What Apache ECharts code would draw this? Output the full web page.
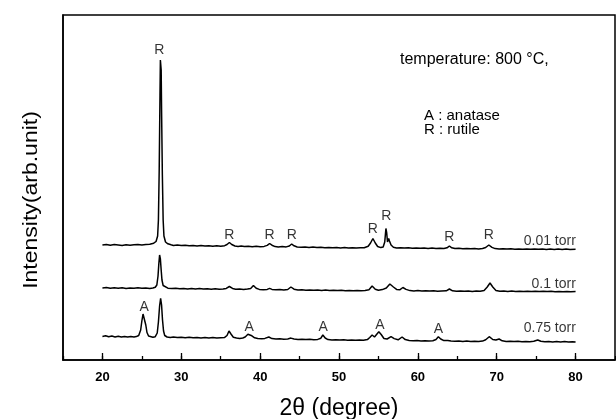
<!DOCTYPE html>
<html>
<head>
<meta charset="utf-8">
<script src="https://cdn.jsdelivr.net/npm/echarts@6/dist/echarts.min.js"></script>
<style>html,body{margin:0;padding:0;background:#fff}#c{width:616px;height:419px}</style>
</head>
<body>
<div id="c"></div>
<script>
// 2θ (degree) vs intensity (arb. units, traces offset as in the figure)
var trace001 = [
[20,115],[20.5,115.6],[21,114.8],[21.5,115.4],[22,115],[22.5,114.6],[23,115.3],[23.5,114.7],[24,115.2],[24.5,115.6],[25,115],[25.5,115.4],[26,115.8],[26.5,116.8],[26.8,118.5],[27,124],[27.1,140],[27.2,190],[27.3,265],[27.35,300],[27.4,302],[27.45,290],[27.5,250],[27.6,185],[27.7,140],[27.8,124],[28,118],[28.3,116.2],[28.7,115.2],[29,114.6],[29.5,115],[30,114.4],[30.5,114.8],[31,114.2],[31.5,114.6],[32,114],[32.5,114.5],[33,113.9],[33.5,114.3],[34,113.8],[34.5,114.2],[35,113.7],[35.5,114.3],[35.8,115.5],[36.1,117.5],[36.4,115.5],[36.8,114],[37.2,113.6],[37.6,114],[38,113.5],[38.5,113.8],[39,113.3],[39.5,113.7],[40,113.2],[40.5,113.6],[40.9,114.6],[41.2,116.5],[41.5,114.8],[41.9,113.4],[42.3,113],[42.8,113.4],[43.3,113.1],[43.7,114],[44,116],[44.3,114.2],[44.7,113],[45.2,112.7],[45.7,113],[46.2,112.6],[46.7,112.9],[47.2,112.4],[47.7,112.8],[48.2,112.3],[48.7,112.6],[49.2,112.2],[49.7,112.5],[50.2,112.1],[50.7,112.4],[51.2,112],[51.7,112.3],[52.2,111.9],[52.7,112.2],[53.2,112.3],[53.7,113.8],[54,117],[54.3,121.5],[54.6,117],[54.9,113.5],[55.3,112.4],[55.6,113],[55.8,118],[55.95,131.5],[56.05,127],[56.15,118],[56.3,121.5],[56.4,119],[56.6,115],[56.9,112.8],[57.3,112],[57.8,112.3],[58.3,111.9],[58.8,112.2],[59.3,111.8],[59.8,112.1],[60.3,111.7],[60.8,112],[61.3,111.6],[61.8,111.9],[62.3,111.5],[62.8,111.8],[63.3,111.6],[63.7,112.2],[64,114],[64.3,112.2],[64.7,111.4],[65.2,111.7],[65.7,111.3],[66.2,111.6],[66.7,111.2],[67.2,111.5],[67.7,111.1],[68.2,111.5],[68.6,112.5],[69,115],[69.4,112.6],[69.8,111.4],[70.3,111],[70.8,111.3],[71.3,110.9],[71.8,111.2],[72.3,110.8],[72.8,111.1],[73.3,110.8],[73.8,111.1],[74.3,110.7],[74.8,111],[75.3,110.7],[75.8,111],[76.3,110.6],[76.8,110.9],[77.3,110.6],[77.8,110.9],[78.3,110.6],[78.8,110.9],[79.3,110.6],[80,110.8]
];
var trace01 = [
[20,72],[20.5,72.4],[21,71.7],[21.5,72.2],[22,71.8],[22.5,72.3],[23,71.6],[23.5,72],[24,71.7],[24.5,72.2],[25,71.8],[25.5,72.1],[26,71.6],[26.4,72],[26.7,72.8],[26.9,75],[27.05,84],[27.15,96],[27.25,105],[27.35,101],[27.45,90],[27.55,80],[27.7,74.5],[27.9,72.6],[28.3,71.8],[28.8,71.4],[29.3,71.8],[29.8,71.2],[30.3,71.6],[30.8,71],[31.3,71.5],[31.8,71],[32.3,71.4],[32.8,70.9],[33.3,71.3],[33.8,70.8],[34.3,71.2],[34.8,70.7],[35.3,71.1],[35.7,71.6],[36.1,73.5],[36.5,71.6],[36.9,70.8],[37.4,71],[37.9,70.6],[38.4,70.9],[38.8,71.6],[39.15,74.5],[39.5,71.8],[39.9,70.6],[40.4,70.3],[40.9,70.6],[41.2,71.6],[41.5,70.6],[42,70.2],[42.5,70.5],[43,70.1],[43.5,70.5],[43.9,73],[44.3,70.8],[44.8,69.9],[45.3,70.2],[45.8,69.8],[46.3,70.1],[46.8,69.7],[47.3,70],[47.8,69.6],[48.3,69.9],[48.8,69.5],[49.3,69.8],[49.8,69.4],[50.3,69.7],[50.8,69.3],[51.3,69.6],[51.8,69.3],[52.3,69.6],[52.8,69.2],[53.3,69.5],[53.8,70.3],[54.2,74],[54.6,70.8],[55,69.8],[55.5,70.4],[56,72],[56.45,76],[56.9,73],[57.3,70.6],[57.7,70.2],[58.1,72.5],[58.5,70.6],[59,69.4],[59.5,69.1],[60,69.4],[60.5,69],[61,69.3],[61.5,68.9],[62,69.2],[62.5,68.8],[63,69.1],[63.6,69.2],[64,71],[64.4,69.2],[64.9,68.8],[65.4,69.1],[65.9,68.7],[66.4,69],[66.9,68.6],[67.4,68.9],[67.9,68.7],[68.4,69.5],[68.8,73],[69.15,77],[69.5,73],[69.9,69.6],[70.4,68.7],[70.9,69],[71.4,68.6],[71.9,68.9],[72.4,68.5],[72.9,68.8],[73.4,68.5],[73.9,68.8],[74.4,68.4],[74.9,68.7],[75.4,68.4],[75.9,68.7],[76.4,68.4],[76.9,68.7],[77.4,68.3],[77.9,68.6],[78.4,68.3],[78.9,68.6],[79.4,68.3],[80,68.5]
];
var trace075 = [
[20,23.5],[20.4,24.2],[20.8,23.2],[21.2,23.9],[21.6,23.1],[22,23.7],[22.4,23],[22.8,23.6],[23.2,23],[23.6,23.5],[24,23],[24.3,23.4],[24.6,24.5],[24.85,30],[25,39],[25.15,46],[25.25,47.3],[25.35,44],[25.5,35],[25.65,27.5],[25.85,24],[26.1,23],[26.4,22.8],[26.7,23.3],[26.95,27],[27.1,38],[27.25,54],[27.38,61.7],[27.5,55],[27.62,40],[27.75,29],[27.9,24.5],[28.2,23],[28.6,22.5],[29,22.9],[29.5,22.4],[30,22.8],[30.5,22.3],[31,22.7],[31.5,22.2],[32,22.6],[32.5,22.1],[33,22.5],[33.5,22],[34,22.4],[34.5,21.9],[35,22.3],[35.5,22.6],[35.8,24.5],[36.05,29],[36.3,26],[36.6,22.8],[37,22],[37.4,21.6],[37.8,22],[38.1,23],[38.45,25.7],[38.7,24.5],[38.95,24.2],[39.3,22.2],[39.7,21.5],[40.2,21.2],[40.6,21.6],[41.1,23],[41.5,21.4],[42,20.9],[42.5,21.2],[43,20.8],[43.5,21.1],[43.9,21.9],[44.3,21],[44.8,20.5],[45.3,20.8],[45.8,20.4],[46.3,20.7],[46.8,20.3],[47.3,20.6],[47.7,21.8],[47.95,25],[48.25,22],[48.6,20.4],[49.1,20],[49.6,20.3],[50.1,19.9],[50.6,20.2],[51.1,19.8],[51.6,20.1],[52.1,19.7],[52.6,20],[53.1,19.7],[53.6,20.4],[53.9,22.5],[54.2,25],[54.5,23],[54.75,23.5],[55.05,28.3],[55.35,25.5],[55.7,21.5],[56.1,21],[56.6,23.3],[57,21.4],[57.5,20.2],[58,23],[58.4,20.4],[58.9,19.5],[59.4,19.2],[59.9,19.5],[60.4,19],[60.9,19.3],[61.4,18.9],[61.9,19.2],[62.3,20.5],[62.6,23.3],[62.9,21],[63.3,19.4],[63.8,19.5],[64.2,19],[64.7,18.7],[65.2,19],[65.7,18.6],[66.2,18.9],[66.7,18.5],[67.2,18.8],[67.7,18.5],[68.2,18.9],[68.6,20.3],[69.05,23.3],[69.5,20.5],[69.9,20],[70.3,21],[70.7,19.2],[71.2,18.5],[71.7,18.8],[72.2,18.4],[72.7,18.7],[73.2,18.3],[73.7,18.6],[74.2,18.3],[74.7,18.7],[75.2,20],[75.6,18.7],[76.1,18.2],[76.6,18.5],[77.1,18.1],[77.6,18.4],[78.1,18.1],[78.6,18.4],[79.1,18.1],[79.6,18.3],[80,18.1]
];
// peak annotations: [2θ, intensity, phase]
var peakLabels = [
[27.2,310,'R'],[36.1,125,'R'],[41.2,125,'R'],[44.0,125,'R'],[54.3,131,'R'],[56.0,144,'R'],[64.0,123,'R'],[69.0,125,'R'],
[25.3,53,'A'],[38.6,33,'A'],[48.0,33,'A'],[55.2,35,'A'],[62.6,31,'A']
];
// trace names: [2θ, intensity, text]
var traceNames = [[80.1,119,'0.01 torr'],[80.1,75.5,'0.1 torr'],[80.1,31.5,'0.75 torr']];
var majorTicks = [20,30,40,50,60,70,80];

var FONT = "'Liberation Sans', Arial, Helvetica, sans-serif";
var chart = echarts.init(document.getElementById('c'), null, {renderer:'canvas'});
function lineSeries(d){
  return {type:'line', data:d, symbol:'none', xAxisIndex:0, animation:false,
    lineStyle:{color:'#000', width:1.5}, z:3};
}
chart.setOption({
  animation:false,
  backgroundColor:'#fff',
  grid:{left:63, right:1, top:15, bottom:59, containLabel:false, outerBoundsMode:'none',
    show:true, borderColor:'#000', borderWidth:1.5, backgroundColor:'transparent'},
  xAxis:[{
    type:'value', min:15, max:85, interval:5, position:'bottom',
    axisLine:{show:true, onZero:false, lineStyle:{color:'#000', width:1.5}},
    axisTick:{show:true, inside:true, length:4, lineStyle:{color:'#000', width:1.3}},
    axisLabel:{show:true, margin:11, color:'#000', fontFamily:FONT, fontSize:13, fontWeight:'bold',
      formatter:function(v){ return (majorTicks.indexOf(v) >= 0) ? String(v) : ''; }},
    splitLine:{show:false},
    name:'2θ (degree)', nameLocation:'middle', nameGap:37,
    nameTextStyle:{color:'#000', fontFamily:FONT, fontSize:23}
  },{
    type:'value', min:15, max:85, position:'bottom',
    axisLine:{show:false},
    axisTick:{show:true, inside:true, length:7, customValues:majorTicks, lineStyle:{color:'#000', width:1.3}},
    axisLabel:{show:false},
    splitLine:{show:false}
  }],
  yAxis:{type:'value', min:0, max:345,
    axisLine:{show:true, lineStyle:{color:'#000', width:1.5}}, axisTick:{show:false}, axisLabel:{show:false}, splitLine:{show:false}},
  graphic:[
    {type:'text', x:31, y:200, rotation:Math.PI/2, scaleX:1.15,
      style:{text:'Intensity(arb.unit)', fill:'#000', font:'20px '+FONT, textAlign:'center', textVerticalAlign:'middle', align:'center', verticalAlign:'middle'}},
    {type:'text', x:400, y:60,
      style:{text:'temperature: 800 °C,', fill:'#000', font:'16px '+FONT, textAlign:'left', textVerticalAlign:'middle', align:'left', verticalAlign:'middle'}},
    {type:'text', x:424, y:116,
      style:{text:'A : anatase', fill:'#000', font:'15px '+FONT, textAlign:'left', textVerticalAlign:'middle', align:'left', verticalAlign:'middle'}},
    {type:'text', x:424, y:130,
      style:{text:'R : rutile', fill:'#000', font:'15px '+FONT, textAlign:'left', textVerticalAlign:'middle', align:'left', verticalAlign:'middle'}}
  ],
  series:[
    lineSeries(trace001), lineSeries(trace01), lineSeries(trace075),
    {type:'scatter', symbolSize:1, itemStyle:{color:'rgba(0,0,0,0)'}, animation:false, z:4,
      data:peakLabels.map(function(p){ return {value:[p[0],p[1]], name:p[2]}; }),
      label:{show:true, position:'inside', formatter:'{b}', color:'#000', fontFamily:FONT, fontSize:14}},
    {type:'scatter', symbolSize:1, itemStyle:{color:'rgba(0,0,0,0)'}, animation:false, z:4,
      data:traceNames.map(function(p){ return {value:[p[0],p[1]], name:p[2]}; }),
      label:{show:true, position:'left', distance:0, formatter:'{b}', color:'#000', fontFamily:FONT, fontSize:14}}
  ]
});
</script>
</body>
</html>
